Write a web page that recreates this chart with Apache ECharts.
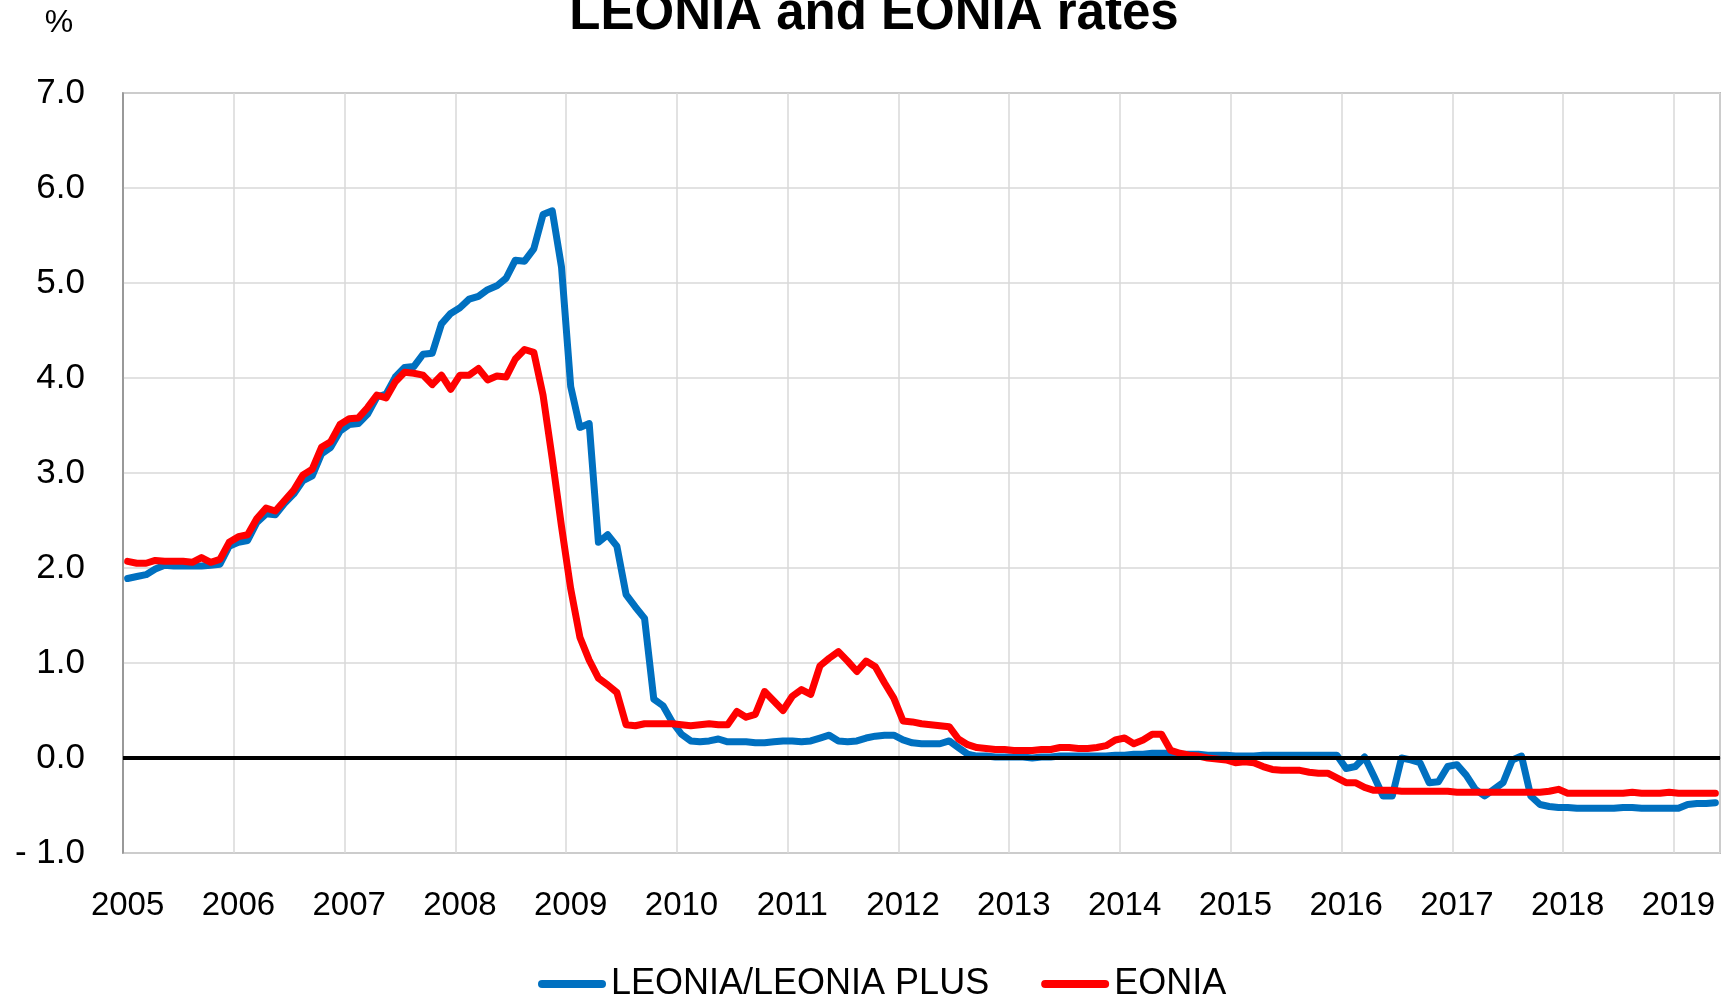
<!DOCTYPE html>
<html>
<head>
<meta charset="utf-8">
<title>LEONIA and EONIA rates</title>
<script src="https://cdn.jsdelivr.net/npm/echarts@6/dist/echarts.min.js"></script>
<style>
  html, body { margin: 0; padding: 0; background: #fff; }
  #chart { width: 1729px; height: 1001px; }
</style>
</head>
<body>
<div id="chart"></div>
<script>
// monthly averages, Jan 2005 .. May 2019, in %
const FIRST_YEAR = 2005
const LAST_YEAR = 2019
const LAST_MONTH = 5

const leonia = [
  1.89, 1.91, 1.93, 1.99, 2.03, 2.02, 2.02, 2.02, 2.02, 2.03, 2.04, 2.23, // 2005
  2.27, 2.29, 2.48, 2.57, 2.56, 2.68, 2.78, 2.92, 2.97, 3.20, 3.27, 3.44, // 2006
  3.51, 3.52, 3.62, 3.80, 3.83, 4.01, 4.11, 4.12, 4.25, 4.26, 4.57, 4.68, // 2007
  4.74, 4.83, 4.86, 4.93, 4.97, 5.05, 5.24, 5.23, 5.36, 5.72, 5.76, 5.17, // 2008
  3.91, 3.48, 3.52, 2.27, 2.35, 2.23, 1.72, 1.59, 1.47, 0.62, 0.55, 0.38, // 2009
  0.25, 0.18, 0.17, 0.18, 0.20, 0.17, 0.17, 0.17, 0.16, 0.16, 0.17, 0.18, // 2010
  0.18, 0.17, 0.18, 0.21, 0.24, 0.18, 0.17, 0.18, 0.21, 0.23, 0.24, 0.24, // 2011
  0.19, 0.16, 0.15, 0.15, 0.15, 0.18, 0.11, 0.04, 0.02, 0.02, 0.01, 0.01, // 2012
  0.01, 0.01, 0.00, 0.01, 0.01, 0.02, 0.02, 0.02, 0.02, 0.02, 0.02, 0.03, // 2013
  0.03, 0.04, 0.04, 0.05, 0.05, 0.05, 0.04, 0.04, 0.04, 0.03, 0.03, 0.03, // 2014
  0.02, 0.02, 0.02, 0.03, 0.03, 0.03, 0.03, 0.03, 0.03, 0.03, 0.03, 0.03, // 2015
  -0.11, -0.09, 0.01, -0.19, -0.40, -0.40, 0.00, -0.02, -0.05, -0.26, -0.25, -0.09, // 2016
  -0.07, -0.18, -0.33, -0.40, -0.33, -0.26, -0.02, 0.02, -0.40, -0.49, -0.51, -0.52, // 2017
  -0.52, -0.53, -0.53, -0.53, -0.53, -0.53, -0.52, -0.52, -0.53, -0.53, -0.53, -0.53, // 2018
  -0.53, -0.49, -0.48, -0.48, -0.47 // 2019
]

const eonia = [
  2.07, 2.05, 2.05, 2.08, 2.07, 2.07, 2.07, 2.06, 2.11, 2.06, 2.09, 2.27, // 2005
  2.33, 2.35, 2.52, 2.63, 2.60, 2.71, 2.82, 2.98, 3.04, 3.27, 3.33, 3.51, // 2006
  3.57, 3.58, 3.69, 3.82, 3.79, 3.96, 4.06, 4.05, 4.03, 3.93, 4.03, 3.88, // 2007
  4.03, 4.03, 4.10, 3.98, 4.02, 4.01, 4.20, 4.30, 4.27, 3.82, 3.15, 2.44, // 2008
  1.78, 1.27, 1.03, 0.84, 0.77, 0.69, 0.35, 0.34, 0.36, 0.36, 0.36, 0.36, // 2009
  0.35, 0.34, 0.35, 0.36, 0.35, 0.35, 0.49, 0.43, 0.46, 0.70, 0.60, 0.50, // 2010
  0.65, 0.72, 0.67, 0.97, 1.05, 1.12, 1.02, 0.91, 1.02, 0.96, 0.79, 0.63, // 2011
  0.39, 0.38, 0.36, 0.35, 0.34, 0.33, 0.20, 0.14, 0.11, 0.10, 0.09, 0.09, // 2012
  0.08, 0.08, 0.08, 0.09, 0.09, 0.11, 0.11, 0.10, 0.10, 0.11, 0.13, 0.19, // 2013
  0.21, 0.15, 0.19, 0.25, 0.25, 0.08, 0.05, 0.03, 0.02, 0.00, -0.01, -0.02, // 2014
  -0.05, -0.04, -0.05, -0.09, -0.12, -0.13, -0.13, -0.13, -0.15, -0.16, -0.16, -0.21, // 2015
  -0.26, -0.26, -0.31, -0.34, -0.34, -0.34, -0.35, -0.35, -0.35, -0.35, -0.35, -0.35, // 2016
  -0.36, -0.36, -0.36, -0.36, -0.36, -0.36, -0.36, -0.36, -0.36, -0.36, -0.35, -0.33, // 2017
  -0.37, -0.37, -0.37, -0.37, -0.37, -0.37, -0.37, -0.36, -0.37, -0.37, -0.37, -0.36, // 2018
  -0.37, -0.37, -0.37, -0.37, -0.37 // 2019
]

const Y_MIN = -1
const Y_MAX = 7
const Y_STEP = 1

const FONT = '"Liberation Sans", Arial, sans-serif'
const BLUE = '#0070C0'
const RED = '#FF0000'
const CAPSULE = 'path://M4,0H64A4,4,0,0,1,64,8H4A4,4,0,0,1,4,0Z'

// one category per month, e.g. "2005-01"
const months = []
for (let y = FIRST_YEAR; y <= LAST_YEAR; y++) {
  for (let m = 1; m <= 12; m++) {
    if (y === LAST_YEAR && m > LAST_MONTH) break
    months.push(y + '-' + String(m).padStart(2, '0'))
  }
}

function fmtY(v) {
  return v < 0 ? '- ' + Math.abs(v).toFixed(1) : v.toFixed(1)
}

const chart = echarts.init(document.getElementById('chart'), null, { renderer: 'canvas' })

chart.setOption({
  animation: false,
  backgroundColor: '#fff',
  textStyle: { fontFamily: FONT, color: '#000' },
  graphic: [
    {
      type: 'text',
      x: 874,
      y: 15,
      style: {
        text: 'LEONIA and EONIA rates',
        font: 'bold 51px ' + FONT,
        fill: '#000',
        textAlign: 'center',
        textVerticalAlign: 'middle',
      },
    },
    {
      type: 'text',
      x: 59,
      y: 23,
      style: {
        text: '%',
        font: '32px ' + FONT,
        fill: '#000',
        textAlign: 'center',
        textVerticalAlign: 'middle',
      },
    },
  ],
  grid: {
    left: 123,
    right: 9,
    top: 93,
    bottom: 148,
    show: true,
    borderColor: '#898989',
    borderWidth: 1.5,
    outerBoundsMode: 'none',
  },
  legend: {
    left: 533,
    top: 961,
    itemWidth: 68,
    itemHeight: 8,
    itemGap: 52,
    textStyle: { fontSize: 36, fontFamily: FONT, color: '#000' },
    data: [
      { name: 'LEONIA/LEONIA PLUS', icon: CAPSULE },
      { name: 'EONIA', icon: CAPSULE },
    ],
  },
  xAxis: {
    type: 'category',
    data: months,
    boundaryGap: true,
    axisLine: { lineStyle: { color: '#898989', width: 1.5 } },
    axisTick: { show: false },
    axisLabel: {
      interval: 11,
      margin: 36,
      fontSize: 33,
      fontFamily: FONT,
      color: '#000',
      formatter: (v) => v.slice(0, 4),
    },
    splitLine: { show: true, interval: 11, lineStyle: { color: '#D9D9D9', width: 1.5 } },
  },
  yAxis: {
    type: 'value',
    min: Y_MIN,
    max: Y_MAX,
    interval: Y_STEP,
    axisLine: { show: true, lineStyle: { color: '#898989', width: 1.5 } },
    axisTick: { show: false },
    axisLabel: { margin: 38, fontSize: 35, fontFamily: FONT, color: '#000', formatter: fmtY },
    splitLine: { lineStyle: { color: '#D9D9D9', width: 1.5 } },
  },
  series: [
    {
      name: 'zero',
      type: 'line',
      data: [],
      z: 1,
      silent: true,
      markLine: {
        silent: true,
        symbol: ['none', 'none'],
        label: { show: false },
        lineStyle: { color: '#000', width: 4, type: 'solid' },
        data: [{ yAxis: 0 }],
      },
    },
    {
      name: 'LEONIA/LEONIA PLUS',
      type: 'line',
      data: leonia,
      z: 3,
      showSymbol: false,
      symbol: 'none',
      color: BLUE,
      lineStyle: { color: BLUE, width: 7, join: 'round', cap: 'round' },
    },
    {
      name: 'EONIA',
      type: 'line',
      data: eonia,
      z: 4,
      showSymbol: false,
      symbol: 'none',
      color: RED,
      lineStyle: { color: RED, width: 7, join: 'round', cap: 'round' },
    },
  ],
})
</script>
</body>
</html>
